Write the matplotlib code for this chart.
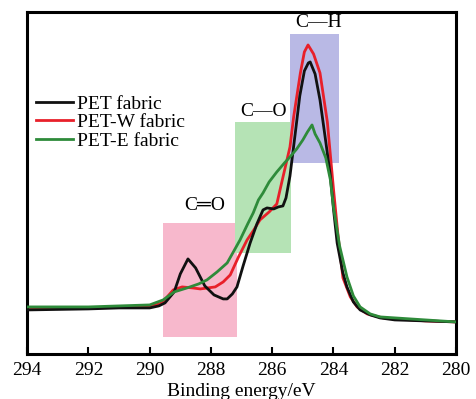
import numpy as np
import matplotlib.pyplot as plt
from matplotlib.patches import Rectangle

plt.rcParams['font.family'] = ['Liberation Serif', 'DejaVu Serif']

# binding energy (eV) and intensity (a.u.)
pet_x = [294, 293, 292, 291, 290, 289.7, 289.5, 289.2, 289.0, 288.75, 288.5, 288.2, 287.9,
         287.6, 287.47, 287.3, 287.15, 286.95, 286.72, 286.5, 286.3, 286.17, 285.95, 285.8,
         285.65, 285.55, 285.42, 285.25, 285.1, 284.95, 284.82, 284.76, 284.6, 284.44, 284.25,
         284.11, 284.0, 283.88, 283.7, 283.56, 283.35, 283.13, 282.8, 282.48, 282, 281, 280]
pet_y = [44, 44.5, 45, 46, 46, 48, 51, 62, 80, 95, 86, 68, 59,
         55, 55, 60, 67, 88, 111, 130, 144, 146, 145, 147,
         148, 156, 178, 220, 258, 283, 291, 292, 280, 254, 212,
         180, 145, 111, 82, 67, 52, 44, 39, 36, 34, 33, 32]

petw_x = [294, 292, 290, 289.6, 289.23, 288.94, 288.6, 288.35, 288.1, 287.86, 287.6, 287.37,
          287.1, 286.82, 286.6, 286.4, 286.1, 285.85, 285.64, 285.42, 285.3, 285.08, 284.95,
          284.83, 284.65, 284.44, 284.2, 284.0, 283.85, 283.69, 283.45, 283.23, 282.9, 282.38,
          281, 280]
petw_y = [45, 46, 47, 51, 64, 67, 66, 65, 66, 67, 72, 79,
          97, 114, 124, 134, 142, 150, 178, 207, 237, 281, 302,
          309, 300, 281, 232, 165, 118, 76, 57, 47, 40, 36,
          33, 32]

pete_x = [294, 292, 290, 289.56, 289.2, 288.78, 288.4, 288.13, 287.8, 287.47, 287.25, 287.05,
          286.8, 286.62, 286.45, 286.3, 286.1, 285.85, 285.6, 285.42, 285.2, 285.0, 284.85,
          284.7, 284.6, 284.44, 284.25, 284.1, 284.0, 283.8, 283.56, 283.35, 283.13, 282.8,
          282.48, 281, 280]
pete_y = [47, 47, 49, 54, 62, 66, 70, 74, 82, 91, 103, 114,
          130, 141, 154, 161, 172, 182, 191, 197, 205, 214, 222,
          229, 220, 211, 196, 174, 147, 108, 77, 58, 47, 40,
          37, 34, 32]

# shaded regions: (x0, x1, y0, y1, colour)
regions = [(289.56, 287.15, 17, 131, '#f7b8cc'),
           (287.21, 285.38, 101, 232, '#b5e3b5'),
           (285.42, 283.82, 191, 320, '#b9b9e5')]
labels = [('C\u2014H', 284.5, 331), ('C\u2014O', 286.3, 242), ('C\u2550O', 288.22, 148)]

fig = plt.figure(figsize=(4.76, 3.99), dpi=100)
ax = fig.add_axes([0.057, 0.113, 0.901, 0.857])

for x0, x1, y0, y1, c in regions:
    ax.add_patch(Rectangle((x1, y0), x0 - x1, y1 - y0, color=c, lw=0, zorder=1))

ax.plot(pet_x, pet_y, color='#111111', lw=2, label='PET fabric', zorder=3)
ax.plot(petw_x, petw_y, color='#e8202a', lw=2, label='PET-W fabric', zorder=2)
ax.plot(pete_x, pete_y, color='#2e8b3a', lw=2, label='PET-E fabric', zorder=4)

for t, x, y in labels:
    ax.text(x, y, t, ha='center', va='center', fontsize=14)

ax.set_xlim(294, 280)
ax.set_ylim(0, 342)
ax.set_xticks(np.arange(294, 279, -2))
ax.set_yticks([])
ax.tick_params(axis='x', direction='in', length=5, width=1.5, labelsize=14, pad=6)
for s in ax.spines.values():
    s.set_linewidth(2.2)
ax.set_xlabel('Binding energy/eV', fontsize=14, labelpad=3)

ax.legend(loc='upper left', bbox_to_anchor=(-0.012, 0.797), frameon=False, fontsize=14,
          handlelength=1.9, handletextpad=0.25, labelspacing=0.05, borderaxespad=0.3)

fig.savefig('out.png', dpi=100)
